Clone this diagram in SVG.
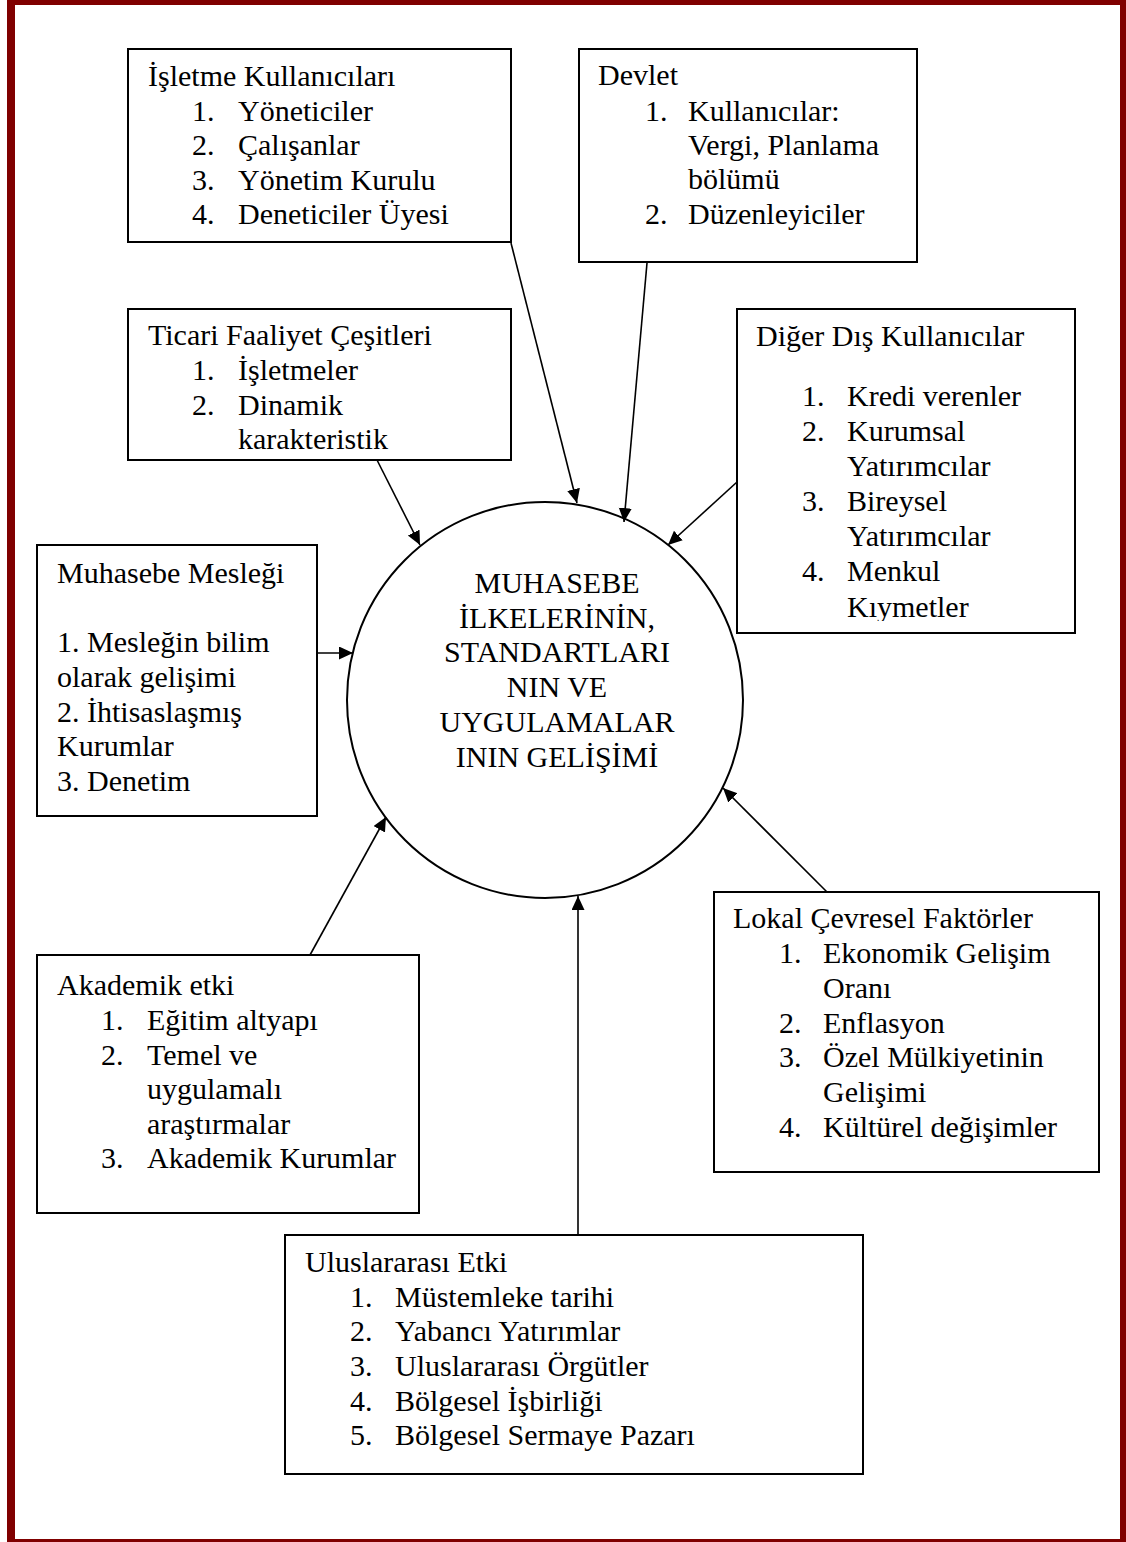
<svg xmlns="http://www.w3.org/2000/svg" width="1126" height="1542" viewBox="0 0 1126 1542">
<style>
.t{font-family:"Liberation Serif","Times New Roman",serif;font-size:30px;fill:#000}
.c{text-anchor:middle}
.box{fill:#fff;stroke:#000;stroke-width:2}
.ln{stroke:#000;stroke-width:1.6;fill:none}
</style>
<defs>
<marker id="ah" markerUnits="userSpaceOnUse" markerWidth="15" markerHeight="14" refX="14" refY="6.5" orient="auto">
<path d="M0,0 L14,6.5 L0,13 z" fill="#000"/>
</marker>
<clipPath id="clipD"><rect x="737" y="309" width="338" height="312"/></clipPath>
</defs>
<rect x="0" y="0" width="1126" height="1542" fill="#fff"/>
<rect x="11" y="1" width="1113" height="1542" fill="none" stroke="#800000" stroke-width="8"/>

<g id="connectors">
<line class="ln" x1="511" y1="243" x2="577" y2="503" marker-end="url(#ah)"/>
<line class="ln" x1="647" y1="263" x2="624" y2="522" marker-end="url(#ah)"/>
<line class="ln" x1="377" y1="460" x2="420" y2="545" marker-end="url(#ah)"/>
<line class="ln" x1="737" y1="482" x2="668" y2="545" marker-end="url(#ah)"/>
<line class="ln" x1="317" y1="653" x2="353" y2="653" marker-end="url(#ah)"/>
<line class="ln" x1="310" y1="955" x2="386" y2="817" marker-end="url(#ah)"/>
<line class="ln" x1="578" y1="1235" x2="578" y2="896" marker-end="url(#ah)"/>
<line class="ln" x1="827" y1="892" x2="723" y2="788" marker-end="url(#ah)"/>
</g>

<g id="center">
<circle cx="545" cy="700" r="198" fill="none" stroke="#000" stroke-width="2"/>
<text class="t c" x="557" y="593">MUHASEBE</text>
<text class="t c" x="557" y="628">İLKELERİNİN,</text>
<text class="t c" x="557" y="662">STANDARTLARI</text>
<text class="t c" x="557" y="697">NIN VE</text>
<text class="t c" x="557" y="732">UYGULAMALAR</text>
<text class="t c" x="557" y="767">ININ GELİŞİMİ</text>
</g>

<g id="isletme">
<rect class="box" x="128" y="49" width="383" height="193"/>
<text class="t" x="148" y="86">İşletme Kullanıcıları</text>
<text class="t" x="192" y="121">1.</text><text class="t" x="238" y="121">Yöneticiler</text>
<text class="t" x="192" y="155">2.</text><text class="t" x="238" y="155">Çalışanlar</text>
<text class="t" x="192" y="190">3.</text><text class="t" x="238" y="190">Yönetim Kurulu</text>
<text class="t" x="192" y="224">4.</text><text class="t" x="238" y="224">Deneticiler Üyesi</text>
</g>

<g id="devlet">
<rect class="box" x="579" y="49" width="338" height="213"/>
<text class="t" x="598" y="85">Devlet</text>
<text class="t" x="645" y="121">1.</text><text class="t" x="688" y="121">Kullanıcılar:</text>
<text class="t" x="688" y="155">Vergi, Planlama</text>
<text class="t" x="688" y="189">bölümü</text>
<text class="t" x="645" y="224">2.</text><text class="t" x="688" y="224">Düzenleyiciler</text>
</g>

<g id="ticari">
<rect class="box" x="128" y="309" width="383" height="151"/>
<text class="t" x="148" y="345">Ticari Faaliyet Çeşitleri</text>
<text class="t" x="192" y="380">1.</text><text class="t" x="238" y="380">İşletmeler</text>
<text class="t" x="192" y="415">2.</text><text class="t" x="238" y="415">Dinamik</text>
<text class="t" x="238" y="449">karakteristik</text>
</g>

<g id="diger">
<rect class="box" x="737" y="309" width="338" height="324"/>
<g clip-path="url(#clipD)">
<text class="t" x="756" y="346">Diğer Dış Kullanıcılar</text>
<text class="t" x="802" y="406">1.</text><text class="t" x="847" y="406">Kredi verenler</text>
<text class="t" x="802" y="441">2.</text><text class="t" x="847" y="441">Kurumsal</text>
<text class="t" x="847" y="476">Yatırımcılar</text>
<text class="t" x="802" y="511">3.</text><text class="t" x="847" y="511">Bireysel</text>
<text class="t" x="847" y="546">Yatırımcılar</text>
<text class="t" x="802" y="581">4.</text><text class="t" x="847" y="581">Menkul</text>
<text class="t" x="847" y="617">Kıymetler</text>
</g>
</g>

<g id="muhasebe">
<rect class="box" x="37" y="545" width="280" height="271"/>
<text class="t" x="57" y="583">Muhasebe Mesleği</text>
<text class="t" x="57" y="652">1. Mesleğin bilim</text>
<text class="t" x="57" y="687">olarak gelişimi</text>
<text class="t" x="57" y="722">2. İhtisaslaşmış</text>
<text class="t" x="57" y="756">Kurumlar</text>
<text class="t" x="57" y="791">3. Denetim</text>
</g>

<g id="akademik">
<rect class="box" x="37" y="955" width="382" height="258"/>
<text class="t" x="57" y="995">Akademik etki</text>
<text class="t" x="101" y="1030">1.</text><text class="t" x="147" y="1030">Eğitim altyapı</text>
<text class="t" x="101" y="1065">2.</text><text class="t" x="147" y="1065">Temel ve</text>
<text class="t" x="147" y="1099">uygulamalı</text>
<text class="t" x="147" y="1134">araştırmalar</text>
<text class="t" x="101" y="1168">3.</text><text class="t" x="147" y="1168">Akademik Kurumlar</text>
</g>

<g id="lokal">
<rect class="box" x="714" y="892" width="385" height="280"/>
<text class="t" x="733" y="928">Lokal Çevresel Faktörler</text>
<text class="t" x="779" y="963">1.</text><text class="t" x="823" y="963">Ekonomik Gelişim</text>
<text class="t" x="823" y="998">Oranı</text>
<text class="t" x="779" y="1033">2.</text><text class="t" x="823" y="1033">Enflasyon</text>
<text class="t" x="779" y="1067">3.</text><text class="t" x="823" y="1067">Özel Mülkiyetinin</text>
<text class="t" x="823" y="1102">Gelişimi</text>
<text class="t" x="779" y="1137">4.</text><text class="t" x="823" y="1137">Kültürel değişimler</text>
</g>

<g id="uluslararasi">
<rect class="box" x="285" y="1235" width="578" height="239"/>
<text class="t" x="305" y="1272">Uluslararası Etki</text>
<text class="t" x="350" y="1307">1.</text><text class="t" x="395" y="1307">Müstemleke tarihi</text>
<text class="t" x="350" y="1341">2.</text><text class="t" x="395" y="1341">Yabancı Yatırımlar</text>
<text class="t" x="350" y="1376">3.</text><text class="t" x="395" y="1376">Uluslararası Örgütler</text>
<text class="t" x="350" y="1411">4.</text><text class="t" x="395" y="1411">Bölgesel İşbirliği</text>
<text class="t" x="350" y="1445">5.</text><text class="t" x="395" y="1445">Bölgesel Sermaye Pazarı</text>
</g>
</svg>
